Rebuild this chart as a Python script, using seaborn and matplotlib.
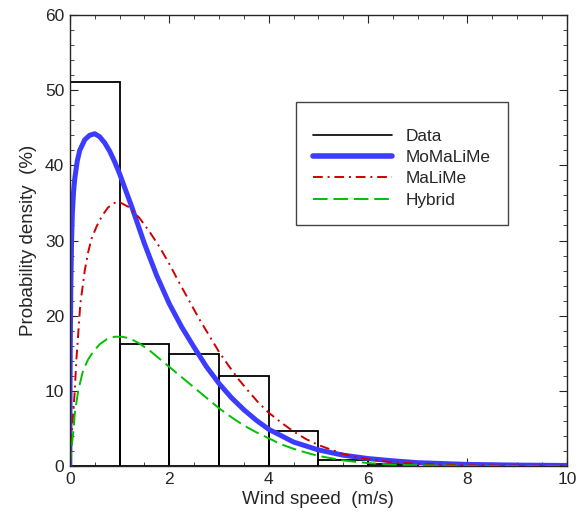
import numpy as np
import matplotlib
matplotlib.use('Agg')
import matplotlib.pyplot as plt
from matplotlib.lines import Line2D
import seaborn as sns

sns.set_style('ticks')
plt.rcParams['font.family'] = ['Liberation Sans', 'DejaVu Sans']

# histogram of measured data (bin edges and heights in %)
bin_edges = [0, 1, 2, 3, 4, 5, 6, 7]
bin_heights = [51.1, 16.3, 14.9, 12.0, 4.7, 0.85, 0.3]

# fitted curves
mo_x = [0, 0.005, 0.01, 0.02, 0.035, 0.05, 0.075, 0.1, 0.15, 0.2, 0.3, 0.4, 0.5, 0.6, 0.7,
        0.8, 0.9, 1.0, 1.1, 1.25, 1.5, 1.75, 2.0, 2.25, 2.5, 2.75, 3.0, 3.25, 3.5, 3.75, 4.0,
        4.5, 5.0, 5.5, 6.0, 6.5, 7.0, 8.0, 9.0, 10.0]
mo_y = [0, 12, 17, 24, 30, 33.5, 36.5, 38.3, 40.6, 42.0, 43.4, 44.0, 44.2, 43.8, 43.0,
        41.9, 40.5, 38.9, 37.1, 34.4, 29.6, 25.3, 21.6, 18.5, 15.8, 13.2, 11.0, 9.1, 7.5, 6.1, 4.9,
        3.2, 2.15, 1.45, 1.0, 0.7, 0.45, 0.22, 0.13, 0.08]

ma_x = [0, 0.03, 0.067, 0.1, 0.13, 0.17, 0.21, 0.3, 0.37, 0.44, 0.54, 0.65, 0.77, 0.9, 1.0,
        1.2, 1.4, 1.6, 1.8, 2.0, 2.2, 2.4, 2.6, 2.8, 3.0, 3.2, 3.4, 3.6, 3.8, 4.0, 4.25, 4.5,
        4.75, 5.0, 5.5, 6.0, 6.5, 7.0, 8.0, 9.0, 10.0]
ma_y = [0, 3.5, 7.0, 10.1, 14.0, 17.7, 21.5, 26.0, 28.5, 30.3, 31.9, 33.3, 34.4, 35.0, 35.1,
        34.4, 33.0, 31.2, 29.2, 26.9, 24.4, 22.0, 19.6, 17.4, 15.2, 13.3, 11.5, 9.9, 8.4, 7.1,
        5.8, 4.6, 3.6, 2.8, 1.6, 0.9, 0.5, 0.3, 0.1, 0.05, 0.03]

hy_x = [0, 0.03, 0.067, 0.1, 0.17, 0.27, 0.37, 0.47, 0.6, 0.75, 0.9, 1.05, 1.2, 1.4, 1.6,
        1.8, 2.0, 2.2, 2.4, 2.6, 2.8, 3.0, 3.25, 3.5, 3.75, 4.0, 4.25, 4.5, 4.75, 5.0, 5.5,
        6.0, 6.5, 7.0, 8.0, 9.0, 10.0]
hy_y = [0, 2.3, 4.3, 7.0, 10.1, 12.8, 14.2, 15.2, 16.2, 16.9, 17.2, 17.2, 17.0, 16.3, 15.4,
        14.3, 13.2, 12.1, 11.0, 9.9, 8.8, 7.7, 6.5, 5.4, 4.5, 3.7, 2.9, 2.3, 1.8, 1.35, 0.75,
        0.4, 0.2, 0.1, 0.03, 0.01, 0.0]

blue = '#3c3cff'
red = '#d00000'
green = '#00c000'
red_dash = [5, 2.5, 1, 2.5]
green_dash = [7.5, 3]

fig, ax = plt.subplots(figsize=(5.82, 5.15), dpi=100)
fig.subplots_adjust(left=0.120, right=0.974, top=0.971, bottom=0.095)

centers = [(a + b) / 2 for a, b in zip(bin_edges[:-1], bin_edges[1:])]
sns.histplot(x=centers, weights=bin_heights, bins=bin_edges, stat='count', fill=False,
             element='bars', color='black', linewidth=1.3, ax=ax)

sns.lineplot(x=mo_x, y=mo_y, color=blue, linewidth=3.6, ax=ax)
sns.lineplot(x=ma_x, y=ma_y, color=red, linewidth=1.4, ax=ax)
ax.lines[-1].set_dashes(red_dash)
sns.lineplot(x=hy_x, y=hy_y, color=green, linewidth=1.4, ax=ax)
ax.lines[-1].set_dashes(green_dash)

ax.set_xlim(0, 10)
ax.set_ylim(0, 60)
ax.set_xticks(np.arange(0, 11, 2))
ax.set_xticks(np.arange(0, 10.01, 0.5), minor=True)
ax.set_yticks(np.arange(0, 61, 10))
ax.set_yticks(np.arange(0, 60.1, 2), minor=True)
ax.tick_params(which='both', direction='in', top=True, right=True, labelsize=12.5, pad=4)
ax.tick_params(which='major', length=6)
ax.tick_params(which='minor', length=3)
for s in ax.spines.values():
    s.set_linewidth(1.0)
ax.set_xlabel('Wind speed  (m/s)', fontsize=13.5, labelpad=3)
ax.set_ylabel('Probability density  (%)', fontsize=13.5, labelpad=6)

handles = [Line2D([], [], color='black', lw=1.2),
           Line2D([], [], color=blue, lw=4),
           Line2D([], [], color=red, lw=1.4, dashes=red_dash),
           Line2D([], [], color=green, lw=1.4, dashes=green_dash)]
leg = ax.legend(handles, ['Data', 'MoMaLiMe', 'MaLiMe', 'Hybrid'], loc='upper left',
                bbox_to_anchor=(0.455, 0.807), fontsize=12.4, frameon=True, fancybox=False,
                framealpha=1, edgecolor='#444444', borderpad=1.0, handlelength=4.6,
                handletextpad=0.75, labelspacing=0.35, borderaxespad=0,
                title=' ', title_fontsize=3)
leg.get_frame().set_linewidth(1.0)

fig.savefig('out.png', dpi=100)
